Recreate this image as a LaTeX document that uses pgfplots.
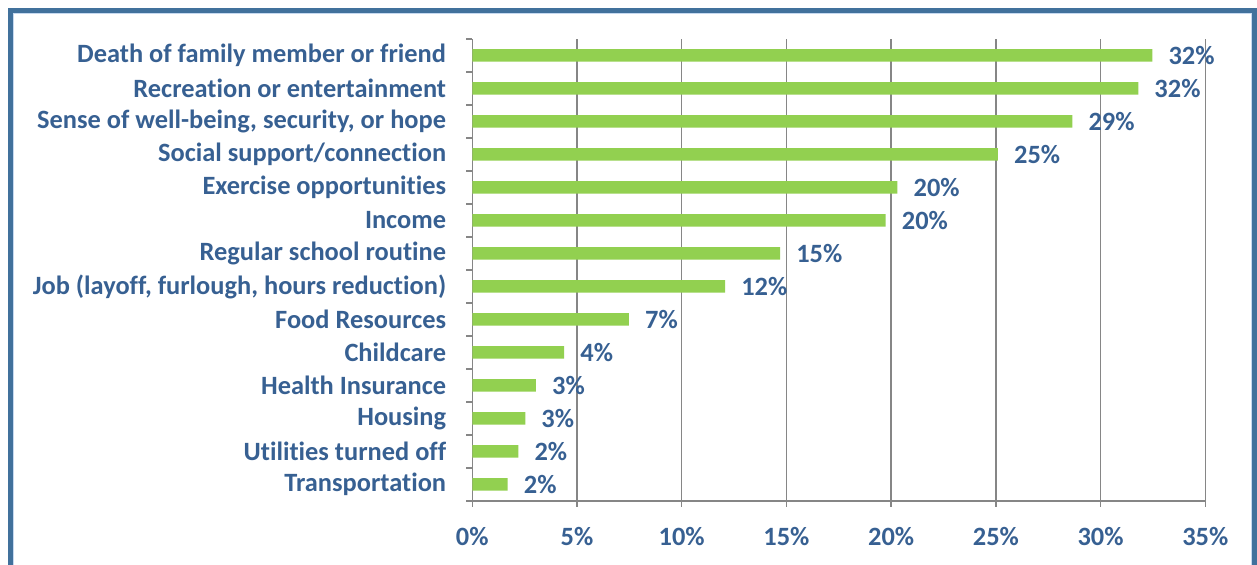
\documentclass[border=0pt]{standalone}
\usepackage{pgfplots}
\pgfplotsset{compat=1.18}
\usepackage{fontspec}
\setmainfont{Carlito}[Ligatures={NoCommon}]
\definecolor{txtblue}{HTML}{376092}
\definecolor{barGreen}{HTML}{92D050}
\definecolor{gridgray}{HTML}{868686}
\definecolor{frameblue}{HTML}{41719C}
\definecolor{framelight}{HTML}{C6D9F0}
\begin{document}
\begin{tikzpicture}
\useasboundingbox (0,0) rectangle (1257bp,565bp);
\draw[frameblue, line width=5bp] (10.5bp,-5bp) -- (10.5bp,554bp) -- (1254.5bp,554bp) -- (1254.5bp,-5bp);
\draw[framelight, line width=1bp] (13.5bp,-5bp) -- (13.5bp,551bp) -- (1251.5bp,551bp) -- (1251.5bp,-5bp);
\begin{axis}[
  at={(472.3bp,64bp)}, anchor=south west,
  scale only axis,
  width=733bp, height=462bp,
  xmin=0, xmax=35,
  ymin=-0.5, ymax=13.5,
  axis x line*=bottom, axis y line*=left,
  axis line style={gridgray, line width=1.5bp},
  xtick={0,5,...,35},
  xticklabels={0\%,5\%,10\%,15\%,20\%,25\%,30\%,35\%},
  ytick={0,...,13},
  yticklabels={Transportation,Utilities turned off,Housing,Health Insurance,Childcare,Food Resources,{Job (layoff, furlough, hours reduction)},Regular school routine,Income,Exercise opportunities,Social support/connection,{Sense of well-being, security, or hope},Recreation or entertainment,Death of family member or friend},
  minor ytick={-0.5,0.5,...,13.5},
  tick align=outside,
  major x tick style={gridgray, line width=1.5bp},
  major y tick style={draw=none},
  minor y tick style={gridgray, line width=1.5bp},
  major tick length=6bp,
  minor tick length=6bp,
  xmajorgrids,
  major grid style={gridgray, line width=1.5bp},
  ticklabel style={font=\fontsize{26.5}{31}\selectfont\bfseries, text=txtblue, inner sep=0pt},
  yticklabel style={anchor=east, xshift=-20bp},
  xticklabel style={anchor=north, yshift=-20bp},
  clip=false,
]
\addplot[xbar, fill=barGreen, draw=none, bar width=12.5bp,
  nodes near coords, point meta=explicit symbolic,
  every node near coord/.append style={font=\fontsize{26.5}{31}\selectfont\bfseries, text=txtblue, anchor=west, inner sep=0pt, xshift=16bp}]
coordinates {
(1.69,0) [2\%]
(2.2,1) [2\%]
(2.53,2) [3\%]
(3.04,3) [3\%]
(4.39,4) [4\%]
(7.48,5) [7\%]
(12.07,6) [12\%]
(14.7,7) [15\%]
(19.74,8) [20\%]
(20.3,9) [20\%]
(25.1,10) [25\%]
(28.65,11) [29\%]
(31.8,12) [32\%]
(32.47,13) [32\%]
};
\end{axis}
\end{tikzpicture}
\end{document}
